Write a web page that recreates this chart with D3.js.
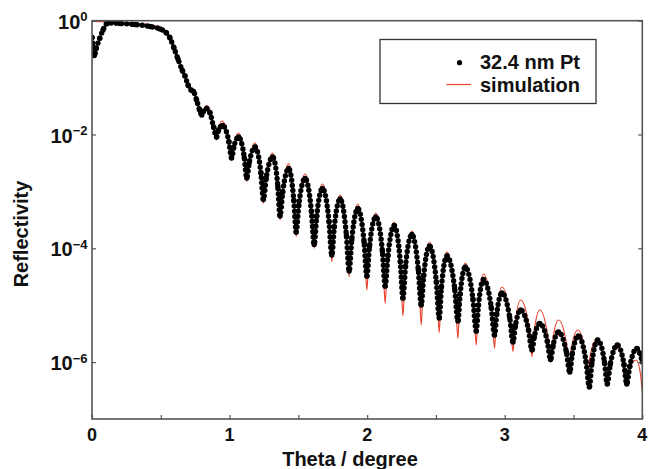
<!DOCTYPE html>
<html><head><meta charset="utf-8">
<script src="https://cdn.jsdelivr.net/npm/d3@7"></script>
<style>
body{margin:0;background:#fff}
text{font-family:"Liberation Sans",Arial,sans-serif;font-weight:bold;fill:#111}
</style>
</head><body>
<svg id="c" width="648" height="469"></svg>
<script>
// ---- data ----
const expTheta = [0.000,0.007,0.017,0.031,0.056,0.080,0.116,0.204,0.313,0.422,0.495,0.538,0.567,0.596,0.625,0.655,0.676,0.698,0.720,0.738,0.760,0.782,0.798,0.811,0.834,0.858,0.884,0.905,0.920,0.949,
0.995,1.015,1.030,1.065, 1.107,1.125,1.143,1.185, 1.228,1.246,1.266,1.313, 1.351,1.367,1.386,1.429,
1.467,1.484,1.503,1.549, 1.595,1.615,1.633,1.675, 1.723,1.743,1.761,1.804, 1.849,1.869,1.888,1.932,
1.978,1.998,2.017,2.063, 2.111,2.131,2.151,2.196, 2.241,2.260,2.279,2.325, 2.372,2.393,2.411,2.453,
2.503,2.524,2.540,2.580, 2.636,2.660,2.676,2.713, 2.769,2.793,2.809,2.846, 2.902,2.926,2.942,2.980,
3.036,3.060,3.077,3.116, 3.173,3.198,3.215,3.255, 3.310,3.333,3.351,3.391, 3.448,3.473,3.491,3.535,
3.591,3.615,3.633,3.676, 3.725,3.745,3.767,3.818, 3.867,3.887,3.909,3.960, 3.982,4.000];
const expLog10R = [-0.295,-0.462,-0.612,-0.485,-0.309,-0.163,-0.040,-0.049,-0.067,-0.102,-0.146,-0.207,-0.304,-0.480,-0.673,-0.866,-0.972,-1.130,-1.218,-1.244,-1.394,-1.569,-1.657,-1.587,-1.543,-1.622,-1.868,-2.044,-1.921,-1.842,
-2.127,-2.413,-2.228,-2.044, -2.404,-2.765,-2.492,-2.220, -2.681,-3.142,-2.769,-2.395, -2.914,-3.432,-3.015,-2.598,
-3.156,-3.714,-3.243,-2.773, -3.353,-3.933,-3.441,-2.949, -3.533,-4.118,-3.626,-3.134, -3.766,-4.399,-3.850,-3.301,
-3.894,-4.487,-3.968,-3.450, -4.056,-4.663,-4.131,-3.599, -4.236,-4.873,-4.315,-3.758, -4.377,-4.996,-4.478,-3.960,
-4.592,-5.225,-4.680,-4.135, -4.707,-5.278,-4.803,-4.329, -4.891,-5.453,-5.001,-4.548, -5.036,-5.524,-5.155,-4.786,
-5.216,-5.647,-5.366,-5.084, -5.436,-5.787,-5.554,-5.322, -5.638,-5.954,-5.713,-5.471, -5.823,-6.174,-5.858,-5.541,
-5.990,-6.438,-6.025,-5.612, -5.998,-6.385,-6.042,-5.700, -6.042,-6.385,-6.073,-5.761, -5.840,-5.998];

const simTheta = [0.000,0.131,0.313,0.422,0.495,0.538,0.567,0.596,0.625,0.655,0.676,0.698,0.720,0.738,0.760,0.782,0.798,0.811,0.836,0.862,0.887,0.905,0.920,0.945,
0.997,1.015,1.027,1.065, 1.110,1.125,1.140,1.185, 1.231,1.246,1.263,1.313, 1.353,1.367,1.383,1.429,
1.470,1.484,1.500,1.549, 1.598,1.615,1.630,1.675, 1.726,1.743,1.759,1.804, 1.853,1.869,1.885,1.932,
1.981,1.998,2.014,2.063, 2.114,2.131,2.147,2.196, 2.244,2.260,2.276,2.325, 2.376,2.393,2.408,2.453,
2.506,2.524,2.537,2.580, 2.640,2.660,2.673,2.713, 2.773,2.793,2.806,2.846, 2.906,2.926,2.939,2.980,
3.040,3.060,3.074,3.116, 3.178,3.198,3.212,3.255, 3.313,3.333,3.348,3.391, 3.449,3.469,3.484,3.531,
3.585,3.604,3.621,3.673, 3.724,3.742,3.760,3.816, 3.861,3.876,3.896,3.956, 3.982,4.000];
const simLog10R = [-0.011,-0.019,-0.044,-0.076,-0.120,-0.181,-0.278,-0.453,-0.647,-0.840,-0.946,-1.095,-1.192,-1.218,-1.376,-1.569,-1.692,-1.569,-1.494,-1.605,-1.886,-2.097,-1.903,-1.763,
-2.105,-2.448,-2.211,-1.974, -2.402,-2.830,-2.489,-2.149, -2.679,-3.209,-2.767,-2.325, -2.914,-3.503,-3.011,-2.518,
-3.157,-3.796,-3.245,-2.694, -3.347,-4.000,-3.435,-2.870, -3.553,-4.236,-3.649,-3.063, -3.781,-4.499,-3.860,-3.221,
-3.977,-4.733,-4.056,-3.380, -4.173,-4.967,-4.252,-3.538, -4.364,-5.190,-4.443,-3.696, -4.522,-5.348,-4.619,-3.889,
-4.686,-5.483,-4.774,-4.065, -4.823,-5.582,-4.920,-4.258, -4.979,-5.700,-5.076,-4.452, -5.105,-5.758,-5.219,-4.680,
-5.249,-5.817,-5.363,-4.909, -5.407,-5.905,-5.495,-5.084, -5.546,-6.007,-5.634,-5.260, -5.678,-6.095,-5.765,-5.436,
-5.816,-6.197,-5.889,-5.582, -5.933,-6.285,-6.019,-5.752, -6.073,-6.394,-6.178,-5.963, -6.139,-6.508];

const xTickValues = [0,0.5,1,1.5,2,2.5,3,3.5,4];
const xTickLabels = ["0","1","2","3","4"];
const yTickExp = [0,-2,-4,-6];
const legendLabels = ["32.4 nm Pt","simulation"];
const axisTitles = {x:"Theta / degree", y:"Reflectivity"};

// ---- layout ----
const m = {left:92, top:20.7, right:642.3, bottom:419};
const x = d3.scaleLinear().domain([0,4]).range([m.left, m.right]);
const y = d3.scaleLog().domain([1e-7,1]).range([m.bottom, m.top]);
const svg = d3.select("#c");
const axisColor = "#555";

const toPts = (tx, ly) => d3.range(Math.min(tx.length, ly.length)).map(i => ({t:tx[i], r:Math.pow(10, ly[i])}));
const sim = toPts(simTheta, simLog10R);
const exp = toPts(expTheta, expLog10R);

svg.append("defs").append("clipPath").attr("id","clip").append("rect")
  .attr("x", m.left).attr("y", m.top).attr("width", m.right-m.left).attr("height", m.bottom-m.top);

const line = d3.line().x(d => x(d.t)).y(d => y(d.r)).curve(d3.curveMonotoneX);
const plot = svg.append("g").attr("clip-path","url(#clip)");

// simulation (red line)
plot.append("path").datum(sim).attr("d", line)
  .attr("fill","none").attr("stroke","#e8412c").attr("stroke-width",1.2);

// experimental data (dense black dots)
plot.append("path").datum(exp).attr("d", line)
  .attr("fill","none").attr("stroke","#000").attr("stroke-width",5.4)
  .attr("stroke-linecap","round").attr("stroke-dasharray","0 5.2");
plot.selectAll("circle.exp").data(exp).join("circle").attr("class","exp")
  .attr("cx", d => x(d.t)).attr("cy", d => y(d.r)).attr("r", 2.7).attr("fill","#000");

// ---- axes (inward ticks) ----
const styleAxis = g => { g.select(".domain").remove(); g.selectAll("line").attr("stroke", axisColor).attr("stroke-width",1.2); g.selectAll("text").remove(); };
svg.append("g").attr("transform",`translate(0,${m.bottom})`)
  .call(d3.axisBottom(x).tickValues(xTickValues).tickSize(-4)).call(styleAxis);
svg.append("g").attr("transform",`translate(${m.left},0)`)
  .call(d3.axisLeft(y).tickValues(yTickExp.map(e => Math.pow(10,e))).tickSize(-4)).call(styleAxis);
svg.append("g").attr("transform",`translate(${m.right},0)`)
  .call(d3.axisRight(y).tickValues(yTickExp.map(e => Math.pow(10,e))).tickSize(-4)).call(styleAxis);

// frame
svg.append("rect").attr("x", m.left).attr("y", m.top).attr("width", m.right-m.left).attr("height", m.bottom-m.top)
  .attr("fill","none").attr("stroke", axisColor).attr("stroke-width",1.6);

// x tick labels
svg.selectAll("text.xt").data(xTickLabels).join("text").attr("class","xt")
  .attr("x", d => x(+d)).attr("y", 440.5).attr("text-anchor","middle").attr("font-size",18).text(d => d);

// y tick labels 10^n
yTickExp.forEach(e => {
  const t = svg.append("text").attr("x", 87.5).attr("y", y(Math.pow(10,e)) + 8).attr("text-anchor","end").attr("font-size",20);
  t.append("tspan").text("10");
  t.append("tspan").attr("font-size",13).attr("dy",-7.5).text(e === 0 ? "0" : "\u2212" + Math.abs(e));
});

// axis titles
svg.append("text").attr("x", 350).attr("y", 466).attr("text-anchor","middle").attr("font-size",20).text(axisTitles.x);
svg.append("text").attr("transform","translate(27.5,234) rotate(-90)").attr("text-anchor","middle").attr("font-size",20).text(axisTitles.y);

// legend
const lg = svg.append("g");
lg.append("rect").attr("x",380).attr("y",39.5).attr("width",216).attr("height",64)
  .attr("fill","#fff").attr("stroke","#333").attr("stroke-width",1.3);
lg.append("circle").attr("cx",459.5).attr("cy",62.7).attr("r",2.6).attr("fill","#000");
lg.append("line").attr("x1",446.5).attr("x2",471).attr("y1",84.5).attr("y2",84.5).attr("stroke","#e8412c").attr("stroke-width",1.2);
lg.selectAll("text.lg").data(legendLabels).join("text").attr("class","lg")
  .attr("x",580).attr("y",(d,i) => i ? 91.7 : 69).attr("text-anchor","end").attr("font-size",20).text(d => d);
</script>
</body></html>
